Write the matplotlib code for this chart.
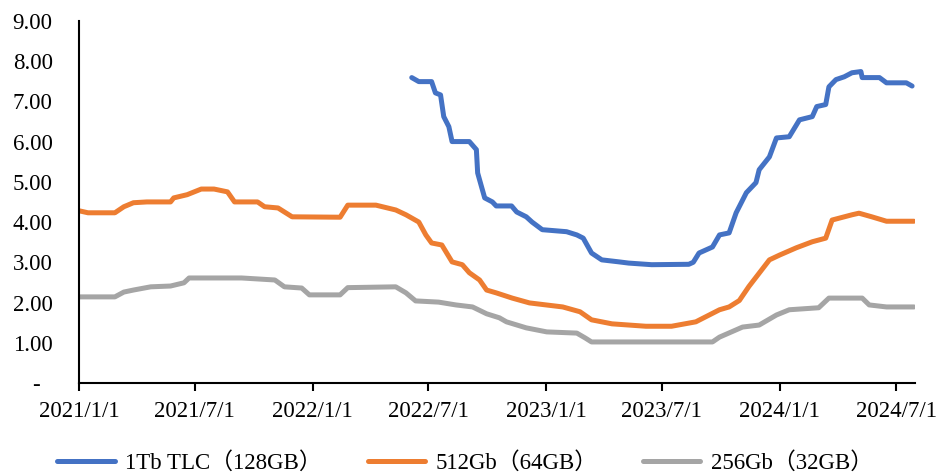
import pandas as pd
import matplotlib.pyplot as plt
import matplotlib.dates as mdates
from matplotlib.ticker import FixedLocator, FuncFormatter

plt.rcParams['font.family'] = ['Liberation Serif', 'Noto Sans CJK SC']

# 1Tb TLC (128GB)
tlc_dates = ['2022-06-05', '2022-06-16', '2022-07-06', '2022-07-12', '2022-07-20', '2022-07-25',
             '2022-08-02', '2022-08-07', '2022-09-03', '2022-09-14', '2022-09-16', '2022-09-22',
             '2022-09-27', '2022-10-09', '2022-10-15', '2022-11-08', '2022-11-16', '2022-12-01',
             '2022-12-10', '2022-12-26', '2023-02-02', '2023-02-18', '2023-02-28', '2023-03-13',
             '2023-03-29', '2023-04-25', '2023-05-10', '2023-06-15', '2023-08-12', '2023-08-19',
             '2023-08-28', '2023-09-18', '2023-09-29', '2023-10-14', '2023-10-25', '2023-11-10',
             '2023-11-25', '2023-11-30', '2023-12-16', '2023-12-27', '2024-01-16', '2024-02-01',
             '2024-02-21', '2024-02-28', '2024-03-13', '2024-03-18', '2024-03-29', '2024-04-11',
             '2024-04-23', '2024-05-07', '2024-05-09', '2024-06-05', '2024-06-16', '2024-07-17',
             '2024-07-26']
tlc_vals = [7.59, 7.49, 7.49, 7.21, 7.16, 6.62,
            6.37, 6.00, 6.00, 5.80, 5.22, 4.88,
            4.60, 4.50, 4.40, 4.40, 4.25, 4.13,
            4.00, 3.81, 3.76, 3.68, 3.60, 3.23,
            3.06, 3.01, 2.98, 2.94, 2.95, 3.00,
            3.23, 3.38, 3.68, 3.73, 4.23, 4.73,
            4.98, 5.30, 5.62, 6.09, 6.12, 6.54,
            6.62, 6.87, 6.92, 7.36, 7.54, 7.61,
            7.71, 7.74, 7.59, 7.59, 7.46, 7.46,
            7.38]

# 512Gb (64GB)
gb512_dates = ['2021-01-01', '2021-01-15', '2021-02-26', '2021-03-12', '2021-03-27', '2021-04-17',
               '2021-05-24', '2021-05-29', '2021-06-19', '2021-06-30', '2021-07-11', '2021-07-31',
               '2021-08-21', '2021-09-01', '2021-10-07', '2021-10-18', '2021-11-08', '2021-11-30',
               '2022-02-13', '2022-02-25', '2022-04-10', '2022-05-11', '2022-05-27', '2022-06-16',
               '2022-06-27', '2022-07-06', '2022-07-22', '2022-08-07', '2022-08-23', '2022-09-03',
               '2022-09-19', '2022-09-30', '2022-10-15', '2022-11-09', '2022-12-06', '2023-01-27',
               '2023-02-23', '2023-03-13', '2023-04-14', '2023-06-06', '2023-07-16', '2023-08-23',
               '2023-09-29', '2023-10-14', '2023-10-30', '2023-11-14', '2023-12-16', '2024-01-01',
               '2024-01-27', '2024-02-21', '2024-03-13', '2024-03-23', '2024-04-23', '2024-05-04',
               '2024-05-24', '2024-06-16', '2024-07-29']
gb512_vals = [4.28, 4.23, 4.23, 4.38, 4.48, 4.50,
              4.50, 4.60, 4.68, 4.75, 4.82, 4.82,
              4.75, 4.50, 4.50, 4.38, 4.35, 4.13,
              4.12, 4.42, 4.42, 4.30, 4.18, 4.00,
              3.68, 3.48, 3.43, 3.01, 2.94, 2.74,
              2.56, 2.31, 2.24, 2.11, 1.99, 1.89,
              1.77, 1.57, 1.47, 1.41, 1.41, 1.52,
              1.82, 1.89, 2.05, 2.40, 3.06, 3.18,
              3.36, 3.51, 3.60, 4.05, 4.18, 4.22,
              4.13, 4.02, 4.02]

# 256Gb (32GB)
gb256_dates = ['2021-01-01', '2021-02-26', '2021-03-12', '2021-03-27', '2021-04-23', '2021-05-24',
               '2021-06-14', '2021-06-22', '2021-09-12', '2021-11-03', '2021-11-18', '2021-12-15',
               '2021-12-27', '2022-02-13', '2022-02-25', '2022-05-11', '2022-05-27', '2022-06-11',
               '2022-07-17', '2022-08-13', '2022-09-08', '2022-09-30', '2022-10-20', '2022-10-31',
               '2022-12-01', '2023-01-02', '2023-02-18', '2023-03-03', '2023-03-13', '2023-09-18',
               '2023-09-29', '2023-11-04', '2023-11-30', '2023-12-27', '2024-01-16', '2024-03-02',
               '2024-03-18', '2024-05-09', '2024-05-20', '2024-06-16', '2024-07-29']
gb256_vals = [2.14, 2.14, 2.26, 2.31, 2.39, 2.41,
              2.49, 2.61, 2.61, 2.56, 2.39, 2.36,
              2.19, 2.19, 2.37, 2.39, 2.24, 2.04,
              2.01, 1.94, 1.89, 1.72, 1.62, 1.52,
              1.37, 1.27, 1.24, 1.12, 1.02, 1.02,
              1.14, 1.39, 1.44, 1.69, 1.82, 1.87,
              2.11, 2.11, 1.94, 1.89, 1.89]

tick_dates = ['2021-01-01', '2021-07-01', '2022-01-01', '2022-07-01',
              '2023-01-01', '2023-07-01', '2024-01-01', '2024-07-01']
tick_labels = ['2021/1/1', '2021/7/1', '2022/1/1', '2022/7/1',
               '2023/1/1', '2023/7/1', '2024/1/1', '2024/7/1']


def main():
    fig = plt.figure(figsize=(9.41, 4.74), dpi=100)
    ax = fig.add_axes([0.084, 0.192, 0.888, 0.764])

    series = [
        (tlc_dates, tlc_vals, '1Tb TLC（128GB）', '#4472C4'),
        (gb512_dates, gb512_vals, '512Gb（64GB）', '#ED7D31'),
        (gb256_dates, gb256_vals, '256Gb（32GB）', '#A5A5A5'),
    ]
    for d, v, label, color in series:
        ax.plot(pd.to_datetime(d), v, color=color, linewidth=3.6, label=label,
                solid_capstyle='round', solid_joinstyle='round')

    ax.set_xlim(pd.Timestamp('2021-01-01'), pd.Timestamp('2024-07-30'))
    ax.set_ylim(0, 9)

    ticks = mdates.date2num(pd.to_datetime(tick_dates))
    ax.xaxis.set_major_locator(FixedLocator(ticks))
    ax.set_xticklabels(tick_labels)
    ax.set_yticks(range(0, 10))
    ax.yaxis.set_major_formatter(FuncFormatter(lambda y, p: '-  ' if y == 0 else f'{y:.2f}'))

    for s in ['top', 'right']:
        ax.spines[s].set_visible(False)
    for s in ['left', 'bottom']:
        ax.spines[s].set_linewidth(1.5)
        ax.spines[s].set_color('black')

    ax.tick_params(axis='x', direction='out', length=6, width=1.5, pad=7, labelsize=16.5)
    ax.tick_params(axis='y', length=0, pad=19, labelsize=16.5)

    ax.legend(loc='center', bbox_to_anchor=(0.462, -0.221), ncol=3, frameon=False,
              fontsize=16.5, handlelength=2.5, handletextpad=0.45, columnspacing=2.0)

    plt.savefig('out.png', dpi=100)


if __name__ == '__main__':
    main()
